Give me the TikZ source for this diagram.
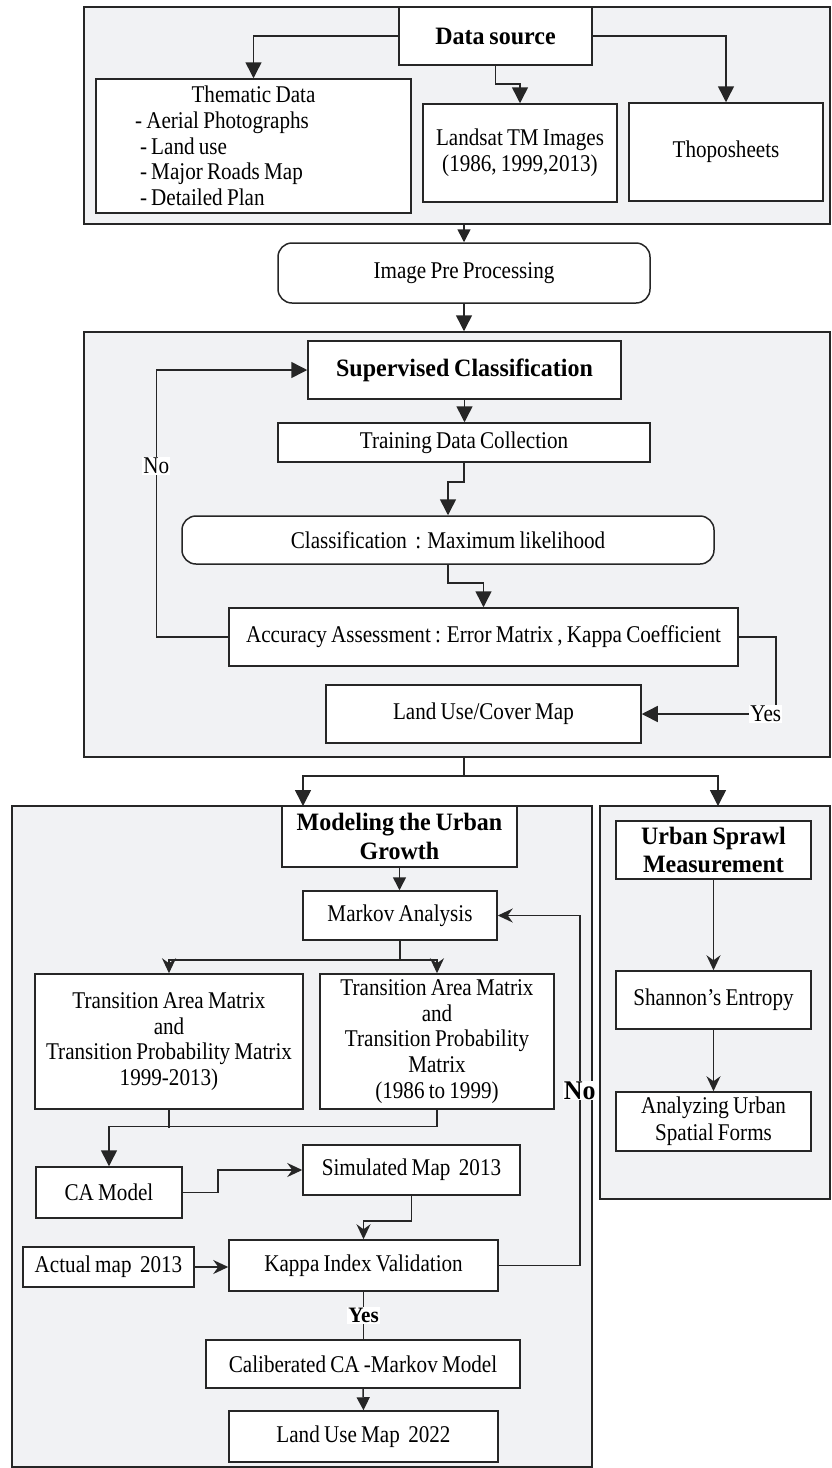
\documentclass[tikz,border=0pt]{standalone}
\usepackage{fontspec}
\setmainfont{Liberation Serif}[FakeStretch=0.88, WordSpace=0.8, BoldFeatures={FakeStretch=0.96}]
\usetikzlibrary{arrows.meta,calc}
\definecolor{lncol}{HTML}{262626}
\definecolor{regfill}{HTML}{F1F2F4}
\begin{document}
\begin{tikzpicture}[x=1pt,y=-1pt,
  region/.style={draw=lncol, line width=1.5pt, fill=regfill, inner sep=0pt},
  box/.style={draw=lncol, line width=1.5pt, fill=white, inner sep=0pt, align=center, font=\fontsize{24}{25.7}\selectfont},
  bbox/.style={box, font=\fontsize{25}{28.5}\selectfont\bfseries},
  rbox/.style={box, rounded corners=14pt},
  wire/.style={draw=lncol, line width=1.5pt},
  arr/.style={wire, -{Triangle[width=16pt,length=16pt]}},
  arrs/.style={wire, -{Triangle[width=13pt,length=13pt]}},
  sarr/.style={wire, -{Stealth[width=14pt,length=15pt,inset=5pt]}},
  lab/.style={fill=white, inner sep=1pt, font=\fontsize{24}{25}\selectfont},
  blab/.style={lab, font=\fontsize{22}{25}\selectfont\bfseries},
  bigblab/.style={lab, font=\fontsize{27}{30}\selectfont\bfseries},
]
\useasboundingbox (0,0) rectangle (831,1468);

% regions
\node[region, minimum width=746pt, minimum height=217pt] (box1) at (457,115.5) {};
\node[region, minimum width=746pt, minimum height=425pt] (box2) at (457,544.5) {};
\node[region, minimum width=580pt, minimum height=661pt] (box3) at (302,1136.5) {};
\node[region, minimum width=230pt, minimum height=393pt] (box4) at (715,1002.5) {};

% top section
\node[bbox, minimum width=193pt, minimum height=58pt] (ds) at (495.5,36) {Data source};
\node[box, minimum width=315pt, minimum height=134pt, text width=315pt, align=left] (them) at (253.5,146)
  {\spaceskip=0pt\xspaceskip=0pt\centering Thematic Data\par\raggedright\spaceskip=0pt\xspaceskip=0pt
   \hspace*{39pt}- Aerial Photographs\\
   \hspace*{44pt}- Land use\\
   \hspace*{44pt}- Major Roads Map\\
   \hspace*{44pt}- Detailed Plan};
\node[box, minimum width=194pt, minimum height=98pt] (land) at (520,153) {Landsat TM Images\\(1986, 1999,2013)};
\node[box, minimum width=194pt, minimum height=98pt] (thopo) at (726,152) {Thoposheets};
\node[rbox, minimum width=372pt, minimum height=60pt] (ipp) at (464,273) {Image Pre Processing};

% classification section
\node[bbox, minimum width=313pt, minimum height=58pt] (sc) at (464.5,370) {Supervised Classification};
\node[box, minimum width=372pt, minimum height=39pt] (tdc) at (464,442.5) {Training Data Collection};
\node[rbox, minimum width=532pt, minimum height=48pt] (cls) at (448,540) {Classification\ \ : Maximum likelihood};
\node[box, minimum width=509pt, minimum height=58pt] (acc) at (483.5,637) {Accuracy Assessment : Error Matrix , Kappa Coefficient};
\node[box, minimum width=315pt, minimum height=58pt] (luc) at (483.5,714) {Land Use/Cover Map};

% modelling section
\node[bbox, minimum width=235pt, minimum height=61pt] (mod) at (399.5,836.5) {Modeling the Urban\\Growth};
\node[box, minimum width=194pt, minimum height=49pt] (mk) at (400,915.5) {Markov Analysis};
\node[box, minimum width=268pt, minimum height=135pt] (tam1) at (169,1041.5)
  {Transition Area Matrix\\and\\Transition Probability Matrix\\1999-2013)};
\node[box, minimum width=234pt, minimum height=135pt] (tam2) at (437,1041.5)
  {Transition Area Matrix\\and\\Transition Probability\\Matrix\\(1986 to 1999)};
\node[box, minimum width=146pt, minimum height=51pt] (ca) at (109,1192.5) {CA Model};
\node[box, minimum width=217pt, minimum height=50pt] (sim) at (411.5,1170) {Simulated Map\ \ 2013};
\node[box, minimum width=171pt, minimum height=40pt] (act) at (108.5,1267) {Actual map\ \ 2013};
\node[box, minimum width=269pt, minimum height=51pt] (kap) at (363.5,1265.5) {Kappa Index Validation};
\node[box, minimum width=314pt, minimum height=48pt] (cal) at (363,1364) {Caliberated CA -Markov Model};
\node[box, minimum width=269pt, minimum height=51pt] (lum) at (363.5,1436.5) {Land Use Map\ \ 2022};

% urban sprawl section
\node[bbox, minimum width=195pt, minimum height=58pt] (usm) at (713.5,850) {Urban Sprawl\\Measurement};
\node[box, minimum width=195pt, minimum height=58pt] (sh) at (713.5,1000) {Shannon's Entropy};
\node[box, minimum width=195pt, minimum height=59pt, font=\fontsize{24}{27}\selectfont] (an) at (713.5,1121.5) {Analyzing Urban\\Spatial Forms};

% connectors: top
\draw[arr] (ds.west) -| (them.north);
\draw[arr] (ds.east) -| (thopo.north);
\draw[arr] (ds.south) -- ++(0,18) -| (land.north);
\draw[arrs] (ipp.north |- box1.south) -- (ipp.north);
\draw[arr] (ipp.south) -- (ipp.south |- box2.north);

% connectors: classification
\draw[arr] (sc.south) -- (sc.south |- tdc.north);
\draw[arr] (tdc.south) -- ++(0,19) -| (cls.north);
\draw[arr] (cls.south) -- ++(0,18) -| (acc.north);
\draw[arr] (acc.west) -- ++(-72,0) |- (sc.west) node[lab, pos=0.32] (no1) {No};
\draw[arr] (acc.east) -- ++(37,0) |- (luc.east) node[lab, pos=0.537] (yes1) {Yes};

% split to the two lower sections
\coordinate (sp) at (464,776);
\coordinate (t3) at (303,806);
\coordinate (t4) at (718,806);
\draw[wire] (ipp.south |- box2.south) -- (sp);
\draw[arr] (sp) -| (t3);
\draw[arr] (sp) -| (t4);

% connectors: modelling
\draw[arrs] (mod.south) -- (mod.south |- mk.north);
\draw[wire] (mk.south) -- ++(0,19) coordinate (ms);
\draw[sarr] (ms) -| (tam1.north);
\draw[sarr] (ms) -| (tam2.north);
\draw[wire] (tam1.south) -- ++(0,18);
\draw[arr] (tam2.south) |- ($(ca.north)+(0,-40)$) -- (ca.north);
\draw[sarr] (ca.east) -- ++(35,0) |- (sim.west);
\draw[sarr] (sim.south) -- ++(0,25) -| (kap.north);
\draw[sarr] (act.east) -- (act.east -| kap.west);
\draw[sarr] (kap.east) -- ++(81,0) |- (mk.east) node[bigblab, pos=0.25] (no2) {No};
\draw[wire] (kap.south) -- (kap.south |- cal.north) node[blab, midway] (yes2) {Yes};
\draw[arrs] (cal.south) -- (lum.north);

% connectors: urban sprawl
\draw[sarr] (usm.south) -- (sh.north);
\draw[sarr] (sh.south) -- (an.north);
\end{tikzpicture}
\end{document}
